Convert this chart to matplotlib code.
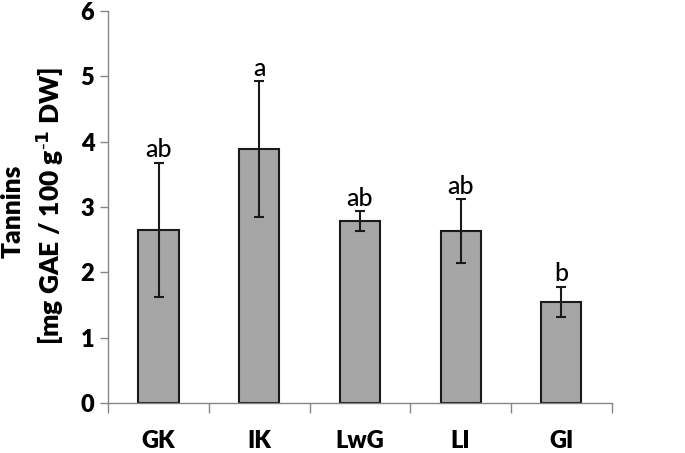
import matplotlib
matplotlib.use("Agg")
import matplotlib.pyplot as plt
import numpy as np

# values
groups = ["GK", "IK", "LwG", "LI", "GI"]
tannins = [2.65, 3.88, 2.79, 2.63, 1.55]
sd = [1.03, 1.04, 0.15, 0.49, 0.23]
letters = ["ab", "a", "ab", "ab", "b"]
yticks = [0, 1, 2, 3, 4, 5, 6]

plt.rcParams["font.family"] = ["Lato", "DejaVu Sans"]
W = "heavy"

fig = plt.figure(figsize=(6.85, 4.53), dpi=100)
ax = fig.add_axes([0.158, 0.110, 0.735, 0.866])

x = np.arange(len(groups))
ax.bar(x, tannins, width=0.40, color="#a6a6a6", edgecolor="#1a1a1a", linewidth=1.5,
       yerr=sd, error_kw=dict(ecolor="#1a1a1a", elinewidth=1.5, capsize=3.5, capthick=1.5),
       zorder=2)

for xi, v, e, lab in zip(x, tannins, sd, letters):
    ax.annotate(lab, (xi, v + e), xytext=(0, 1), textcoords="offset points",
                ha="center", va="bottom", fontsize=18, fontweight="medium")

ax.set_xlim(-0.5, len(groups) - 0.5)
ax.set_ylim(0, 6)
ax.set_yticks(yticks)
ax.set_yticklabels([str(t) for t in yticks], fontsize=17, fontweight=W)

# category labels between boundary ticks
ax.set_xticks(np.arange(len(groups) + 1) - 0.5)
ax.set_xticklabels([])
ax.set_xticks(x, minor=True)
ax.set_xticklabels(groups, minor=True, fontsize=17, fontweight=W)
ax.tick_params(axis="x", which="major", direction="out", length=7, width=1, color="#868686")
ax.tick_params(axis="x", which="minor", length=0, pad=19)
ax.tick_params(axis="y", direction="out", length=6, width=1, color="#868686", pad=4)

for s in ["top", "right"]:
    ax.spines[s].set_visible(False)
for s in ["left", "bottom"]:
    ax.spines[s].set_color("#868686")
    ax.spines[s].set_linewidth(1)

fig.text(0.018, 0.534, "Tannins", rotation=90, ha="center", va="center",
         fontsize=19, fontweight=W)
fig.text(0.073, 0.545, r"[mg GAE / 100 g$^{\mathbf{\text{-}1}}$ DW]", rotation=90,
         ha="center", va="center", fontsize=19, fontweight=W)

fig.savefig("out.png", dpi=100)
